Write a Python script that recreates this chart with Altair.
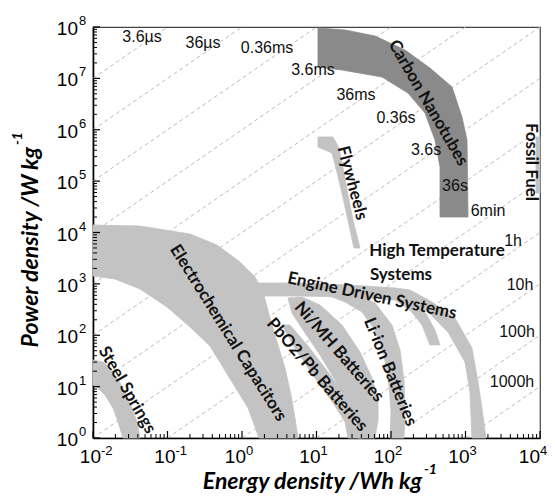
import altair as alt
import pandas as pd

LIGHT = "#c3c3c3"
DARK = "#8a8a8a"

# ---------------- region outlines: log10(energy density, Wh/kg), log10(power density, W/kg)
steel_logE = [-2.000, -1.866, -1.745, -1.597, -1.477, -1.409, -1.369, -1.597, -1.664, -1.732, -1.839, -1.946, -2.000]
steel_logP = [1.518, 1.479, 1.324, 0.973, 0.584, 0.311, 0.000, 0.000, 0.311, 0.584, 0.837, 0.993, 1.032]

cap_logE = [-2.000, -1.369, -0.698, -0.336, -0.027, 0.175, 0.282, 0.376, 0.483, 0.577, 0.658, 0.711, 0.752,
            0.228, 0.081, -0.134, -0.430, -0.698, -1.007, -1.369, -1.705, -2.000]
cap_logP = [4.146, 4.126, 3.971, 3.757, 3.426, 3.134, 2.842, 2.336, 1.810, 1.362, 0.837, 0.389, 0.000,
            0.000, 0.584, 1.090, 1.791, 2.161, 2.550, 2.900, 3.095, 3.153]

pb_logE = [0.537, 0.725, 0.980, 1.222, 1.383, 1.423, 1.611, 1.557, 1.396, 1.154, 0.886, 0.644]
pb_logP = [2.199, 1.713, 1.168, 0.681, 0.311, 0.000, 0.000, 0.350, 0.778, 1.285, 1.791, 2.199]

nimh_logE = [0.617, 0.671, 0.846, 1.047, 1.248, 1.409, 1.517, 1.557, 1.785, 1.826, 1.826, 1.745, 1.584, 1.342, 1.047, 0.805]
nimh_logP = [2.725, 2.433, 2.044, 1.615, 1.129, 0.642, 0.253, 0.000, 0.000, 0.350, 0.740, 1.168, 1.674, 2.199, 2.589, 2.744]

liion_logE = [1.074, 1.383, 1.611, 1.785, 1.906, 1.973, 2.000, 1.987, 2.174, 2.188, 2.174, 2.121, 2.013, 1.785, 1.517]
liion_logP = [2.822, 2.647, 2.452, 2.102, 1.615, 1.032, 0.545, 0.000, 0.000, 0.545, 1.129, 1.713, 2.199, 2.628, 2.822]

engine_logE = [0.013, 0.779, 1.450, 2.054, 2.255, 2.456, 2.591, 2.658, 2.523, 2.416, 2.255, 2.054, 1.450, 0.779, 0.013]
engine_logP = [3.017, 3.017, 2.978, 2.920, 2.744, 2.452, 2.102, 1.810, 1.810, 2.199, 2.491, 2.686, 2.744, 2.764, 2.764]

hightemp_logE = [2.054, 2.255, 2.550, 2.859, 3.087, 3.168, 3.221, 3.275, 3.087, 3.060, 2.993, 2.765, 2.497, 2.255, 2.094]
hightemp_logP = [2.920, 2.881, 2.647, 2.336, 1.752, 1.090, 0.584, 0.000, 0.000, 0.895, 1.479, 2.063, 2.452, 2.686, 2.764]

fly_logE = [1.020, 1.221, 1.302, 1.356, 1.423, 1.490, 1.584, 1.503, 1.436, 1.356, 1.275, 1.208, 1.020]
fly_logP = [5.859, 5.859, 5.645, 5.255, 4.730, 4.243, 3.698, 3.698, 4.146, 4.671, 5.178, 5.547, 5.664]

fossil_logE = [3.946, 4.000, 4.000, 3.946]
fossil_logP = [5.859, 5.859, 4.769, 4.769]

cnt_logE = [1.020, 1.383, 1.785, 2.188, 2.523, 2.819, 2.953, 3.020, 3.034,
            2.658, 2.658, 2.591, 2.456, 2.228, 1.879, 1.342, 1.020]
cnt_logP = [7.981, 7.942, 7.825, 7.552, 7.202, 6.832, 6.248, 5.800, 4.302,
            4.302, 5.275, 5.800, 6.326, 6.715, 7.027, 7.163, 7.221]

# ---------------- constant discharge-time lines (start / end points)
line_E1 = [0.01, 0.01, 0.01, 0.01, 0.01, 0.01, 0.01, 0.01, 0.1, 1, 10, 100, 1000]
line_P1 = [1e7, 1e6, 1e5, 1e4, 1e3, 1e2, 10, 1, 1, 1, 1, 1, 1]
line_E2 = [0.1, 1, 10, 100, 1000, 1e4, 1e4, 1e4, 1e4, 1e4, 1e4, 1e4, 1e4]
line_P2 = [1e8, 1e8, 1e8, 1e8, 1e8, 1e8, 1e7, 1e6, 1e5, 1e4, 1e3, 100, 10]

time_text = ["3.6\u00b5s", "36\u00b5s", "0.36ms", "3.6ms", "36ms", "0.36s", "3.6s", "36s", "6min",
             "1h", "10h", "100h", "1000h"]
time_logE = [-1.342, -0.523, 0.336, 0.953, 1.530, 2.067, 2.470, 2.859, 3.302, 3.638, 3.732, 3.691, 3.624]
time_logP = [7.805, 7.689, 7.591, 7.163, 6.676, 6.229, 5.606, 4.905, 4.418, 3.834, 2.978, 2.063, 1.090]

region_text = ["Carbon Nanotubes", "Flywheels", "Electrochemical Capacitors", "Steel Springs",
               "PbO2/Pb Batteries", "Ni/MH Batteries", "Li-ion Batteries", "Engine Driven Systems",
               "High Temperature", "Systems", "Fossil Fuel"]
region_logE = [2.497, 1.477, -0.188, -1.544, 1.007, 1.302, 1.987, 1.745, 2.617, 2.134, 3.879]
region_logP = [6.521, 4.963, 2.044, 0.934, 1.226, 1.674, 1.285, 2.764, 3.640, 3.173, 5.372]
region_angle = [60, 75, 58, 60, 49, 49, 68, 12, 0, 0, 90]

x_tick_exponents = [-2, -1, 0, 1, 2, 3, 4]
y_tick_exponents = [0, 1, 2, 3, 4, 5, 6, 7, 8]


def polygon_rows(name, logE, logP):
    pts = list(zip(logE, logP)) + [(logE[0], logP[0])]
    return [{"region": name, "i": i, "E": 10 ** le, "P": 10 ** lp} for i, (le, lp) in enumerate(pts)]


light_rows = []
for nm, le, lp in [("Steel Springs", steel_logE, steel_logP),
                   ("Electrochemical Capacitors", cap_logE, cap_logP),
                   ("PbO2/Pb Batteries", pb_logE, pb_logP),
                   ("Ni/MH Batteries", nimh_logE, nimh_logP),
                   ("Li-ion Batteries", liion_logE, liion_logP),
                   ("Engine Driven Systems", engine_logE, engine_logP),
                   ("High Temperature Systems", hightemp_logE, hightemp_logP),
                   ("Flywheels", fly_logE, fly_logP),
                   ("Fossil Fuel", fossil_logE, fossil_logP)]:
    light_rows += polygon_rows(nm, le, lp)
light_df = pd.DataFrame(light_rows)
cnt_df = pd.DataFrame(polygon_rows("Carbon Nanotubes", cnt_logE, cnt_logP))

lines_df = pd.DataFrame({"E1": line_E1, "P1": line_P1, "E2": line_E2, "P2": line_P2})
time_df = pd.DataFrame({"t": time_text, "E": [10 ** v for v in time_logE], "P": [10 ** v for v in time_logP]})
region_df = pd.DataFrame({"t": region_text, "E": [10 ** v for v in region_logE],
                          "P": [10 ** v for v in region_logP], "a": region_angle})

xs = alt.Scale(type="log", domain=[1e-2, 1e4])
ys = alt.Scale(type="log", domain=[1, 1e8])


def X(f):
    return alt.X(f, type="quantitative", scale=xs, title="")


def Y(f):
    return alt.Y(f, type="quantitative", scale=ys, title="")


H = 411
W = 447

lines = alt.Chart(lines_df).mark_rule(color="#cdb5b5", strokeWidth=1, strokeDash=[4, 3]).encode(
    x=X("E1"), y=Y("P1"), x2="E2", y2="P2")

light = alt.Chart(light_df).mark_line(fill=LIGHT, stroke=LIGHT, strokeWidth=0.8).encode(
    x=X("E"), y=Y("P"), detail="region:N", order="i:Q")

cnt = alt.Chart(cnt_df).mark_line(fill=DARK, stroke=DARK, strokeWidth=0.8).encode(
    x=X("E"), y=Y("P"), detail="region:N", order="i:Q")

time_labels = alt.Chart(time_df).mark_text(font="Liberation Sans", fontSize=16, color="#111").encode(
    x=X("E"), y=Y("P"), text="t:N")

region_labels = alt.Chart(region_df).mark_text(font="Lato", fontSize=17, fontWeight="bold", color="#111").encode(
    x=X("E"), y=Y("P"), text="t:N", angle=alt.Angle("a:Q", scale=None))

# ticks
xmaj_df = pd.DataFrame({"E": [10.0 ** k for k in x_tick_exponents]})
xmin_df = pd.DataFrame({"E": [m * 10.0 ** k for k in x_tick_exponents[:-1] for m in range(2, 10)]})
ymaj_df = pd.DataFrame({"P": [10.0 ** k for k in y_tick_exponents]})
ymin_df = pd.DataFrame({"P": [m * 10.0 ** k for k in y_tick_exponents[:-1] for m in range(2, 10)]})

xt1 = alt.Chart(xmaj_df).mark_rule(color="black", strokeWidth=1.2).encode(x=X("E"), y=alt.value(H), y2=alt.value(H - 7))
xt2 = alt.Chart(xmin_df).mark_rule(color="black", strokeWidth=1).encode(x=X("E"), y=alt.value(H), y2=alt.value(H - 4))
yt1 = alt.Chart(ymaj_df).mark_rule(color="black", strokeWidth=1.2).encode(y=Y("P"), x=alt.value(0), x2=alt.value(7))
yt2 = alt.Chart(ymin_df).mark_rule(color="black", strokeWidth=1).encode(y=Y("P"), x=alt.value(0), x2=alt.value(4))

# tick labels: "10" with raised exponent
xlab_neg = pd.DataFrame({"E": [10.0 ** k for k in x_tick_exponents if k < 0],
                         "e": [str(k) for k in x_tick_exponents if k < 0]})
xlab_pos = pd.DataFrame({"E": [10.0 ** k for k in x_tick_exponents if 0 <= k < 4],
                         "e": [str(k) for k in x_tick_exponents if 0 <= k < 4]})
xlab_end = pd.DataFrame({"E": [10.0 ** k for k in x_tick_exponents if k == 4],
                         "e": [str(k) for k in x_tick_exponents if k == 4]})
ylab = pd.DataFrame({"P": [10.0 ** k for k in y_tick_exponents], "e": [str(k) for k in y_tick_exponents]})

tick_layers = []
for d, off in [(xlab_neg, 8), (xlab_pos, 4), (xlab_end, 0)]:
    tick_layers.append(alt.Chart(d).mark_text(font="Liberation Sans", fontSize=19, align="right",
                                              baseline="alphabetic", dx=off, color="black").encode(
        x=X("E"), y=alt.value(H + 25), text=alt.value("10")))
    tick_layers.append(alt.Chart(d).mark_text(font="Liberation Sans", fontSize=13, align="left",
                                              baseline="alphabetic", dx=off, color="black").encode(
        x=X("E"), y=alt.value(H + 17), text="e:N"))
tick_layers.append(alt.Chart(ylab).mark_text(font="Liberation Sans", fontSize=19, align="right",
                                             baseline="alphabetic", dy=8, color="black").encode(
    y=Y("P"), x=alt.value(-15), text=alt.value("10")))
tick_layers.append(alt.Chart(ylab).mark_text(font="Liberation Sans", fontSize=13, align="left",
                                             baseline="alphabetic", dy=-2, color="black").encode(
    y=Y("P"), x=alt.value(-14), text="e:N"))

# axis titles
title_df = pd.DataFrame({"k": [0]})
tfont = dict(font="Lato", fontWeight="bold", fontStyle="italic", color="black")
ytitle = alt.Chart(title_df).mark_text(fontSize=23, angle=270, align="right", baseline="alphabetic", **tfont).encode(
    x=alt.value(-55), y=alt.value(120), text=alt.value("Power density /W kg"))
ysup = alt.Chart(title_df).mark_text(fontSize=14, angle=270, align="left", baseline="alphabetic", **tfont).encode(
    x=alt.value(-71), y=alt.value(118), text=alt.value("-1"))
xtitle = alt.Chart(title_df).mark_text(fontSize=23, align="right", baseline="alphabetic", **tfont).encode(
    x=alt.value(329), y=alt.value(H + 51), text=alt.value("Energy density /Wh kg"))
xsup = alt.Chart(title_df).mark_text(fontSize=14, align="left", baseline="alphabetic", **tfont).encode(
    x=alt.value(331), y=alt.value(H + 36), text=alt.value("-1"))

chart = alt.layer(
    lines, light, cnt, time_labels, region_labels, xt1, xt2, yt1, yt2, *tick_layers,
    ytitle, ysup, xtitle, xsup
).properties(
    width=W, height=H,
    autosize=alt.AutoSizeParams(type="none"),
    padding={"left": 85, "top": 19, "right": 7, "bottom": 55},
).configure_view(
    stroke="#444", strokeWidth=1.2
).configure_axis(
    labels=False, ticks=False, grid=False, domain=True, domainColor="black", domainWidth=1.6
)

chart.save("out.html", embed_options={"renderer": "svg", "actions": False})
